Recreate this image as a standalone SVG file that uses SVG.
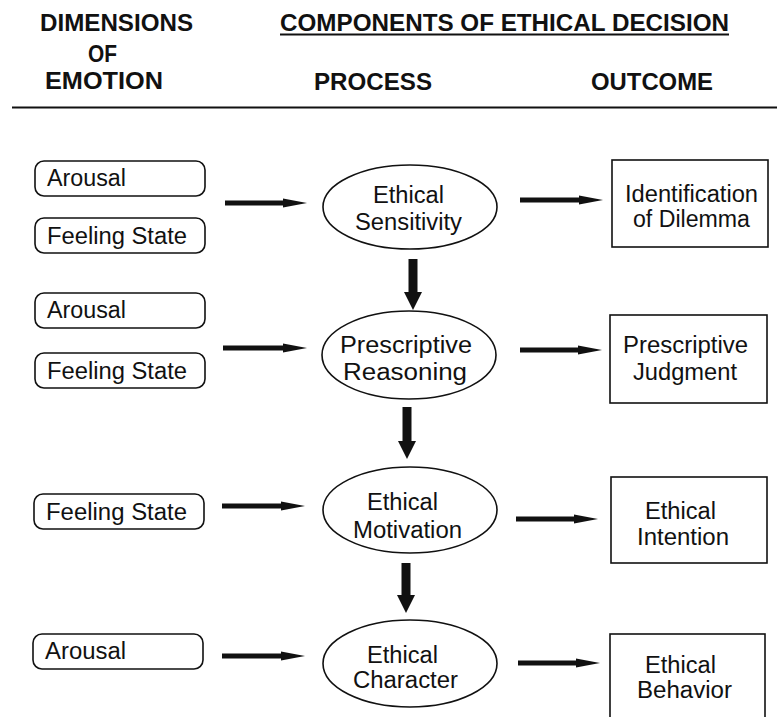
<svg xmlns="http://www.w3.org/2000/svg" width="777" height="717" viewBox="0 0 777 717">
  <style>
    .hdr { font-family: "Liberation Sans", Arial, sans-serif; font-weight: bold; font-size: 23px; fill: #111; }
    .lbl { font-family: "Liberation Sans", Arial, sans-serif; font-size: 23px; fill: #111; }
    .mid { text-anchor: middle; }
    .dim { fill: #fff; stroke: #111; stroke-width: 1.6; }
    .proc { fill: #fff; stroke: #111; stroke-width: 1.6; }
    .out { fill: #fff; stroke: #111; stroke-width: 1.6; }
    .harrow { stroke: #111; stroke-width: 5; fill: none; marker-end: url(#headH); }
    .varrow { stroke: #111; stroke-width: 9; fill: none; marker-end: url(#headV); }
  </style>
  <defs>
    <marker id="headH" markerUnits="userSpaceOnUse" viewBox="0 0 24 10" refX="1" refY="5" markerWidth="24" markerHeight="10" orient="auto">
      <polygon points="0,0.5 24,5 0,9.5" fill="#111"/>
    </marker>
    <marker id="headV" markerUnits="userSpaceOnUse" viewBox="0 0 18 18" refX="1" refY="9" markerWidth="18" markerHeight="18" orient="auto">
      <polygon points="0,0 18,9 0,18" fill="#111"/>
    </marker>
  </defs>

  <!-- column headings -->
  <g id="headings">
    <text class="hdr mid" x="116.5" y="31" textLength="153" lengthAdjust="spacingAndGlyphs">DIMENSIONS</text>
    <text class="hdr mid" x="102.5" y="62" textLength="29" lengthAdjust="spacingAndGlyphs">OF</text>
    <text class="hdr mid" x="104" y="89" textLength="118" lengthAdjust="spacingAndGlyphs">EMOTION</text>
    <text class="hdr mid" x="504.5" y="31" textLength="449" lengthAdjust="spacingAndGlyphs">COMPONENTS OF ETHICAL DECISION</text>
    <line x1="280" y1="34.5" x2="729" y2="34.5" stroke="#111" stroke-width="2"/>
    <text class="hdr mid" x="373" y="90" textLength="118" lengthAdjust="spacingAndGlyphs">PROCESS</text>
    <text class="hdr mid" x="652" y="90" textLength="122" lengthAdjust="spacingAndGlyphs">OUTCOME</text>
    <line x1="12" y1="107.5" x2="777" y2="107.5" stroke="#111" stroke-width="2"/>
  </g>

  <!-- dimensions of emotion -->
  <g id="arousal-1">
    <rect class="dim" x="35" y="161" width="170" height="35" rx="9"/>
    <text class="lbl" x="47" y="186" textLength="79" lengthAdjust="spacingAndGlyphs">Arousal</text>
  </g>
  <g id="feeling-1">
    <rect class="dim" x="35" y="218" width="170" height="35" rx="9"/>
    <text class="lbl" x="47" y="244" textLength="140" lengthAdjust="spacingAndGlyphs">Feeling State</text>
  </g>
  <g id="arousal-2">
    <rect class="dim" x="35" y="293" width="170" height="35" rx="9"/>
    <text class="lbl" x="47" y="318" textLength="79" lengthAdjust="spacingAndGlyphs">Arousal</text>
  </g>
  <g id="feeling-2">
    <rect class="dim" x="35" y="353" width="170" height="35" rx="9"/>
    <text class="lbl" x="47" y="379" textLength="140" lengthAdjust="spacingAndGlyphs">Feeling State</text>
  </g>
  <g id="feeling-3">
    <rect class="dim" x="34" y="494" width="170" height="35" rx="9"/>
    <text class="lbl" x="46" y="520" textLength="141" lengthAdjust="spacingAndGlyphs">Feeling State</text>
  </g>
  <g id="arousal-3">
    <rect class="dim" x="33" y="634" width="170" height="35" rx="9"/>
    <text class="lbl" x="45" y="659" textLength="81" lengthAdjust="spacingAndGlyphs">Arousal</text>
  </g>

  <!-- process components -->
  <g id="sensitivity">
    <ellipse class="proc" cx="410" cy="207" rx="87" ry="42"/>
    <text class="lbl mid" x="408.5" y="203" textLength="71" lengthAdjust="spacingAndGlyphs">Ethical</text>
    <text class="lbl mid" x="408.5" y="230" textLength="107" lengthAdjust="spacingAndGlyphs">Sensitivity</text>
  </g>
  <g id="reasoning">
    <ellipse class="proc" cx="409" cy="355" rx="87" ry="44"/>
    <text class="lbl mid" x="406" y="353" textLength="132" lengthAdjust="spacingAndGlyphs">Prescriptive</text>
    <text class="lbl mid" x="405" y="380" textLength="124" lengthAdjust="spacingAndGlyphs">Reasoning</text>
  </g>
  <g id="motivation">
    <ellipse class="proc" cx="410" cy="510" rx="87" ry="43"/>
    <text class="lbl mid" x="402.5" y="510" textLength="71" lengthAdjust="spacingAndGlyphs">Ethical</text>
    <text class="lbl mid" x="407.5" y="538" textLength="109" lengthAdjust="spacingAndGlyphs">Motivation</text>
  </g>
  <g id="character">
    <ellipse class="proc" cx="410" cy="663.5" rx="87" ry="43.5"/>
    <text class="lbl mid" x="402.5" y="663" textLength="71" lengthAdjust="spacingAndGlyphs">Ethical</text>
    <text class="lbl mid" x="405.5" y="688" textLength="105" lengthAdjust="spacingAndGlyphs">Character</text>
  </g>

  <!-- outcomes -->
  <g id="identification">
    <rect class="out" x="612" y="160" width="156" height="87"/>
    <text class="lbl mid" x="691.5" y="202" textLength="133" lengthAdjust="spacingAndGlyphs">Identification</text>
    <text class="lbl mid" x="691.5" y="227" textLength="117" lengthAdjust="spacingAndGlyphs">of Dilemma</text>
  </g>
  <g id="judgment">
    <rect class="out" x="610" y="315" width="157" height="88"/>
    <text class="lbl mid" x="685.5" y="353" textLength="125" lengthAdjust="spacingAndGlyphs">Prescriptive</text>
    <text class="lbl mid" x="685" y="380" textLength="104" lengthAdjust="spacingAndGlyphs">Judgment</text>
  </g>
  <g id="intention">
    <rect class="out" x="611" y="477" width="156" height="86"/>
    <text class="lbl mid" x="680.5" y="519" textLength="71" lengthAdjust="spacingAndGlyphs">Ethical</text>
    <text class="lbl mid" x="683" y="545" textLength="92" lengthAdjust="spacingAndGlyphs">Intention</text>
  </g>
  <g id="behavior">
    <rect class="out" x="610" y="634" width="155" height="90"/>
    <text class="lbl mid" x="680.5" y="673" textLength="71" lengthAdjust="spacingAndGlyphs">Ethical</text>
    <text class="lbl mid" x="684.5" y="698" textLength="95" lengthAdjust="spacingAndGlyphs">Behavior</text>
  </g>

  <!-- connectors -->
  <g id="connectors">
    <line class="harrow" x1="225" y1="203" x2="284" y2="203"/>
    <line class="harrow" x1="223" y1="348" x2="284" y2="348"/>
    <line class="harrow" x1="222" y1="506" x2="282" y2="506"/>
    <line class="harrow" x1="222" y1="656" x2="282" y2="656"/>
    <line class="harrow" x1="520" y1="200" x2="580" y2="200"/>
    <line class="harrow" x1="520" y1="350" x2="579" y2="350"/>
    <line class="harrow" x1="516" y1="519" x2="575" y2="519"/>
    <line class="harrow" x1="518" y1="663" x2="577" y2="663"/>
    <line class="varrow" x1="413" y1="259" x2="413" y2="293"/>
    <line class="varrow" x1="407" y1="407" x2="407" y2="442"/>
    <line class="varrow" x1="406" y1="563" x2="406" y2="596"/>
  </g>
</svg>
